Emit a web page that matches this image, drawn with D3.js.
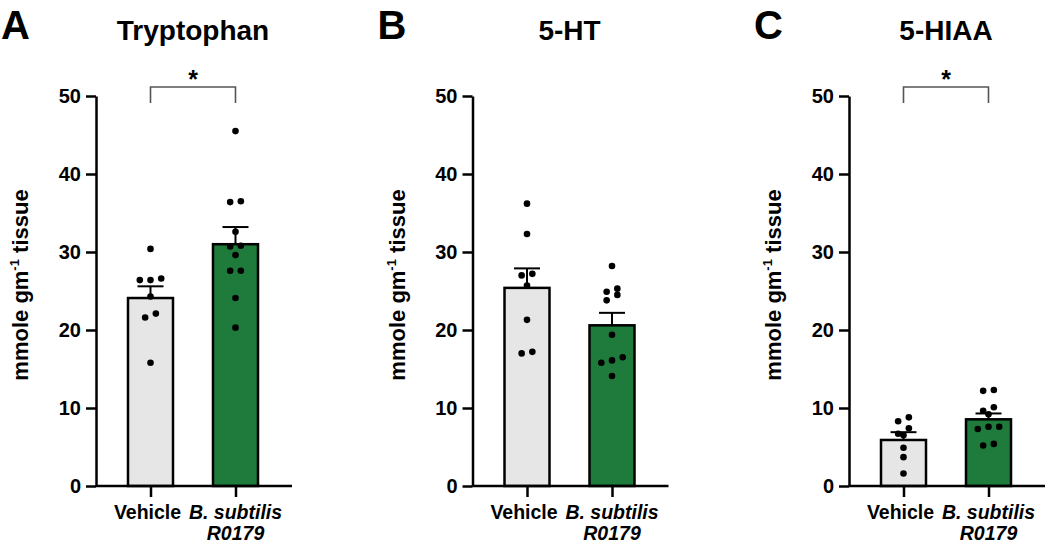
<!DOCTYPE html>
<html><head><meta charset="utf-8">
<script src="https://cdn.jsdelivr.net/npm/d3@7"></script>
<style>
body{margin:0;background:#fff}
svg{display:block}
text{font-family:"Liberation Sans",Arial,sans-serif;font-weight:bold;fill:#000}
</style>
</head><body>
<svg id="c" width="1050" height="546"></svg>
<script>
// ---------- data ----------
const categories = ["Vehicle", "B. subtilis R0179"];
const titles = ["Tryptophan", "5-HT", "5-HIAA"];
const letters = ["A", "B", "C"];
const yTicks = [0, 10, 20, 30, 40, 50];
const significance = ["*", "", "*"];

const tryptophanVehicle = [30.4, 26.6, 26.4, 26.4, 24.3, 22.1, 21.6, 15.8];
const tryptophanBsub = [45.5, 36.5, 36.4, 32.6, 30.8, 30.7, 29.6, 27.6, 27.6, 24.1, 20.3];
const tryptophanMean = [24.1, 31.0];
const tryptophanSem = [1.5, 2.2];

const htVehicle = [36.2, 32.3, 27.2, 27.0, 25.7, 21.3, 17.2, 17.0];
const htBsub = [28.2, 25.3, 24.9, 24.5, 23.8, 19.4, 16.5, 16.1, 15.8, 14.1];
const htMean = [25.4, 20.6];
const htSem = [2.5, 1.6];

const hiaaVehicle = [8.8, 8.3, 7.4, 6.7, 6.5, 4.9, 3.7, 1.6];
const hiaaBsub = [12.3, 12.2, 10.1, 9.65, 9.2, 7.6, 7.6, 7.3, 5.4, 5.2];
const hiaaMean = [5.9, 8.55];
const hiaaSem = [1.0, 0.75];

const panels = [
  {points: [tryptophanVehicle, tryptophanBsub], mean: tryptophanMean, sem: tryptophanSem},
  {points: [htVehicle, htBsub], mean: htMean, sem: htSem},
  {points: [hiaaVehicle, hiaaBsub], mean: hiaaMean, sem: hiaaSem}
];

// ---------- layout ----------
const svg = d3.select("#c");
const y = d3.scaleLinear().domain([0, 50]).range([486, 96]);
const plotW = 196;
const panelStep = 376.5;
const firstAxisX = 96;
const fills = ["#e6e6e6", "#1e7b3b"];
const barW = 45;
const dotGap = 10.7;

function swarm(vals, cx) {
  const pts = vals.map(v => ({v, py: y(v)})).sort((a, b) => a.py - b.py);
  const rows = [];
  let cur = null;
  pts.forEach(d => {
    if (cur && d.py - cur[0].py < 6) cur.push(d);
    else { cur = [d]; rows.push(cur); }
  });
  rows.forEach(r => {
    r.sort((a, b) => a.v - b.v);
    const n = r.length;
    r.forEach((d, k) => d.px = cx + (k - (n - 1) / 2) * dotGap);
  });
  return pts;
}

panels.forEach((p, i) => {
  const ox = firstAxisX + i * panelStep;
  const g = svg.append("g").attr("transform", `translate(${ox},0)`);
  const x = d3.scalePoint().domain(categories).range([54.5, 139.5]);

  // panel letter & title
  svg.append("text").attr("x", ox - 95).attr("y", 39)
    .style("font-size", "40px").text(letters[i]);
  g.append("text").attr("x", plotW / 2 - 1).attr("y", 40)
    .attr("text-anchor", "middle").style("font-size", "28px").text(titles[i]);

  // y label
  const yl = g.append("text")
    .attr("transform", `translate(-68,285) rotate(-90)`)
    .attr("text-anchor", "middle").style("font-size", "22px");
  yl.append("tspan").text("mmole gm");
  yl.append("tspan").attr("dy", -9).style("font-size", "13px").text("-1");
  yl.append("tspan").attr("dy", 9).text(" tissue");

  // bars
  g.selectAll("rect.bar").data(categories).join("rect")
    .attr("class", "bar")
    .attr("x", c => x(c) - barW / 2)
    .attr("y", (c, j) => y(p.mean[j]))
    .attr("width", barW)
    .attr("height", (c, j) => y(0) - y(p.mean[j]))
    .attr("fill", (c, j) => fills[j])
    .attr("stroke", "#000").attr("stroke-width", 2.5);

  // error bars (upper only)
  categories.forEach((c, j) => {
    const top = y(p.mean[j] + p.sem[j]);
    g.append("line").attr("x1", x(c)).attr("x2", x(c))
      .attr("y1", y(p.mean[j])).attr("y2", top)
      .attr("stroke", "#000").attr("stroke-width", 2);
    g.append("line").attr("x1", x(c) - 13).attr("x2", x(c) + 13)
      .attr("y1", top).attr("y2", top)
      .attr("stroke", "#000").attr("stroke-width", 2);
  });

  // points
  categories.forEach((c, j) => {
    const pts = swarm(p.points[j], x(c));
    g.selectAll(null).data(pts).join("circle")
      .attr("cx", d => d.px).attr("cy", d => d.py).attr("r", 3.3)
      .attr("fill", "#000");
  });

  // y axis
  const ya = g.append("g").call(
    d3.axisLeft(y).tickValues(yTicks).tickSize(10).tickSizeOuter(0).tickPadding(5));
  ya.select(".domain").attr("stroke-width", 2.5);
  ya.selectAll(".tick line").attr("stroke-width", 2.5);
  ya.selectAll(".tick text").style("font-size", "20px").attr("fill", "#000");

  // x axis
  const xa = g.append("g").attr("transform", `translate(0,${y(0)})`).call(
    d3.axisBottom(x).tickSize(11).tickSizeOuter(0).tickFormat(""));
  xa.select(".domain").attr("d", `M0,0H${plotW}`).attr("stroke-width", 2.5);
  xa.selectAll(".tick line").attr("stroke-width", 2.5);
  categories.forEach((c, j) => {
    const t = g.append("text").attr("x", x(c)).attr("y", 519)
      .attr("text-anchor", "middle").style("font-size", "19.5px");
    if (j === 0) {
      t.attr("x", x(c) - 3).text(c);
    } else {
      const k = c.lastIndexOf(" ");
      t.style("font-style", "italic");
      t.append("tspan").attr("x", x(c)).text(c.slice(0, k));
      t.append("tspan").attr("x", x(c)).attr("dy", 21).text(c.slice(k + 1));
    }
  });

  // significance bracket
  if (significance[i]) {
    const x0 = x(categories[0]), x1 = x(categories[1]);
    g.append("path").attr("d", `M${x0},103V87H${x1}V103`)
      .attr("fill", "none").attr("stroke", "#555").attr("stroke-width", 1.6);
    g.append("text").attr("x", (x0 + x1) / 2).attr("y", 88)
      .attr("text-anchor", "middle").style("font-size", "25px").text(significance[i]);
  }
});
</script>
</body></html>
